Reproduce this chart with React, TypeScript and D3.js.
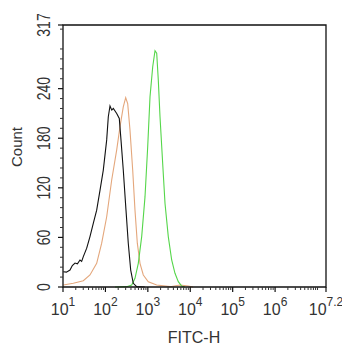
import React from "react";
import * as d3 from "d3";

// log10(FITC-H) and counts for each histogram
const blackX = [1.007, 1.08, 1.165, 1.22, 1.283, 1.34, 1.401, 1.44, 1.479, 1.559, 1.636, 1.714, 1.794, 1.872, 1.95, 2.03, 2.068, 2.108, 2.15, 2.186, 2.266, 2.327, 2.367, 2.421, 2.485, 2.539, 2.596, 2.657, 2.737, 2.93];
const blackY = [18.5, 18, 20.5, 26, 29, 28, 32.7, 31, 36.7, 47, 61, 77, 93, 117, 141.5, 178, 206, 219, 214, 216, 210, 204, 178, 141.5, 93, 53, 20.5, 4.5, 0.4, 0];

const tanX = [1.007, 1.243, 1.479, 1.636, 1.794, 1.912, 2.03, 2.148, 2.266, 2.344, 2.421, 2.478, 2.525, 2.579, 2.643, 2.697, 2.752, 2.815, 2.893, 3.011, 3.209, 3.523, 3.758, 3.954, 4.065];
const tanY = [2.4, 4.5, 7.6, 14.5, 28.6, 53, 85, 129.5, 166, 194, 218, 229, 222, 190, 141.5, 93, 53, 28.6, 14.5, 6.4, 2.4, 0.4, 2.4, 1.2, 0];

const greenX = [2.226, 2.502, 2.62, 2.697, 2.775, 2.855, 2.933, 2.997, 3.051, 3.115, 3.169, 3.209, 3.247, 3.287, 3.35, 3.405, 3.482, 3.562, 3.64, 3.718, 3.798, 3.876];
const greenY = [0, 0.4, 2.4, 10.5, 28.6, 61, 109, 170, 230, 266.5, 286, 283, 250, 206, 149.5, 101, 61, 32.7, 16.6, 6.4, 1.2, 0];

const xTickExps = ["1", "2", "3", "4", "5", "6", "7.2"];
const yTicks = [0, 60, 120, 180, 240, 317];

const W = 342, H = 350;
const margin = { left: 63, right: 16, top: 25, bottom: 63 };

export default function App() {
  const x = d3.scaleLinear().domain([1, 7.2]).range([margin.left, W - margin.right]);
  const y = d3.scaleLinear().domain([0, 317]).range([H - margin.bottom, margin.top]);
  const line = d3.line<[number, number]>().x(d => x(d[0])).y(d => y(d[1]));
  const mk = (xs: number[], ys: number[]) => line(xs.map((v, i) => [v, ys[i]] as [number, number])) || "";

  const minorX: number[] = [];
  for (let dec = 1; dec <= 7; dec++) {
    for (let m = 2; m <= 9; m++) {
      const v = dec + Math.log10(m);
      if (v < 7.2) minorX.push(v);
    }
    if (dec === 7) minorX.push(7);
  }
  const minorY: number[] = [];
  for (let v = 12; v < 317; v += 12) if (v % 60 !== 0) minorY.push(v);

  const x0 = x(1), x1 = x(7.2), yb = y(0), yt = y(317);
  const font = "Liberation Sans, Arial, sans-serif";

  return (
    <svg width={W} height={H} style={{ position: "absolute", left: 0, top: 0, background: "#fff" }} fontFamily={font}>
      <rect x={0} y={0} width={W} height={H} fill="#fff" />
      <path d={mk(tanX, tanY)} fill="none" stroke="#e4a77c" strokeWidth={1.1} />
      <path d={mk(greenX, greenY)} fill="none" stroke="#55d64a" strokeWidth={1.1} />
      <path d={mk(blackX, blackY)} fill="none" stroke="#111" strokeWidth={1.1} />
      {/* frame */}
      <path d={`M${x0},${yt}H${x1}V${yb}H${x0}Z`} fill="none" stroke="#111" strokeWidth={1.3} />
      {/* y ticks */}
      {yTicks.map(t => (
        <g key={"yt" + t}>
          <line x1={x0 - 5} x2={x0} y1={y(t)} y2={y(t)} stroke="#111" strokeWidth={1.2} />
          <text transform={`translate(50,${y(t)}) rotate(-90) scale(1,1.25)`} textAnchor="middle" fontSize={14} fill="#333">{t}</text>
        </g>
      ))}
      {minorY.map(t => (
        <line key={"ym" + t} x1={x0 - 3} x2={x0} y1={y(t)} y2={y(t)} stroke="#333" strokeWidth={1} />
      ))}
      {/* x ticks */}
      {xTickExps.map(e => {
        const v = parseFloat(e);
        return (
          <g key={"xt" + e}>
            <line x1={x(v)} x2={x(v)} y1={yb} y2={yb + 5} stroke="#111" strokeWidth={1.2} />
            <text x={x(v)} y={315} textAnchor="middle" fontSize={16} fill="#333">
              10<tspan fontSize={12} dy={-9}>{e}</tspan>
            </text>
          </g>
        );
      })}
      {minorX.map(v => (
        <line key={"xm" + v} x1={x(v)} x2={x(v)} y1={yb} y2={yb + 3} stroke="#333" strokeWidth={1} />
      ))}
      <text transform={`translate(22,147) rotate(-90)`} textAnchor="middle" fontSize={15} fill="#333">Count</text>
      <text x={194} y={343} textAnchor="middle" fontSize={16} fill="#333">FITC-H</text>
    </svg>
  );
}
